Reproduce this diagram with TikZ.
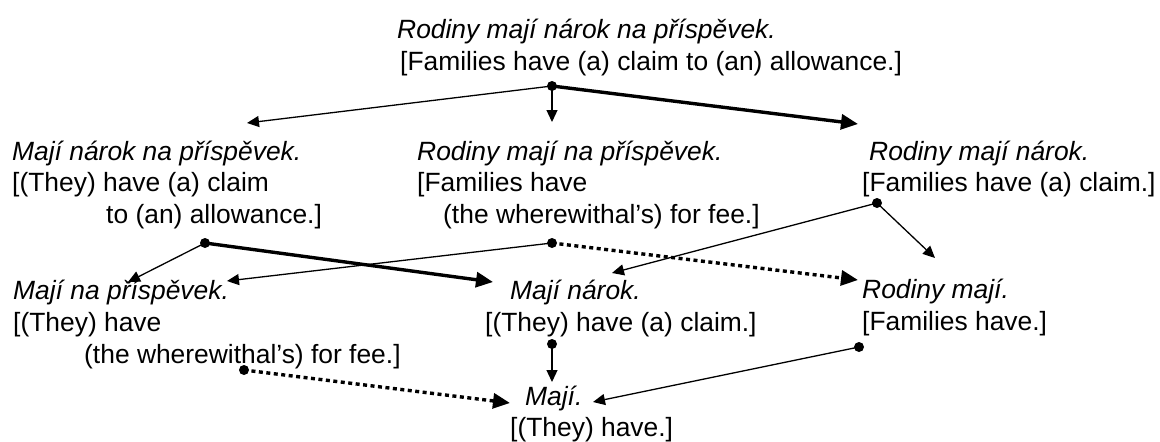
\documentclass[tikz,border=0pt]{standalone}
\usepackage{fontspec}
\setmainfont{Liberation Sans}
\usetikzlibrary{arrows.meta}
\begin{document}
\begin{tikzpicture}[x=1pt,y=-1pt,
  txt/.style={anchor=base west,inner sep=0pt,font=\fontsize{26.4}{31}\selectfont},
  ital/.style={txt,font=\fontsize{26.4}{31}\selectfont\itshape},
  thinarr/.style={line width=1.3pt,-{Triangle[length=12pt,width=11pt]}},
  thickarr/.style={line width=3.4pt,-{Triangle[length=17pt,width=15pt]}},
  dotarr/.style={thickarr,dash pattern=on 4pt off 3.5pt},
  dotmark/.style={fill=black}]
\useasboundingbox (0,0) rectangle (1160,442);
% texts
\node[ital] (T1) at (397,38) {Rodiny mají nárok na příspěvek.};
\node[txt]  (T2) at (400,70) {[Families have (a) claim to (an) allowance.]};
\node[ital] (A1) at (12,160) {Mají nárok na příspěvek.};
\node[txt]  (A2) at (12,191) {[(They) have (a) claim};
\node[txt]  (A3) at (106,223) {to (an) allowance.]};
\node[ital] (B1) at (417,160) {Rodiny mají na příspěvek.};
\node[txt]  (B2) at (417,191) {[Families have};
\node[txt]  (B3) at (443,223) {(the wherewithal’s) for fee.]};
\node[ital] (C1) at (869,160) {Rodiny mají nárok.};
\node[txt]  (C2) at (862,191) {[Families have (a) claim.]};
\node[ital] (D1) at (13,299) {Mají na příspěvek.};
\node[txt]  (D2) at (13,331) {[(They) have};
\node[txt]  (D3) at (84,363) {(the wherewithal’s) for fee.]};
\node[ital] (E1) at (510,299) {Mají nárok.};
\node[txt]  (E2) at (485,331) {[(They) have (a) claim.]};
\node[ital] (F1) at (862,298) {Rodiny mají.};
\node[txt]  (F2) at (862,330) {[Families have.]};
\node[ital] (G1) at (525,405) {Mají.};
\node[txt]  (G2) at (510,436) {[(They) have.]};
% connector points
\coordinate (dT) at (552,86);
\coordinate (dA) at (205,243);
\coordinate (dB) at (552,243);
\coordinate (dC) at (877,203);
\coordinate (dD) at (244,370);
\coordinate (dE) at (552,344);
\coordinate (dF) at (859,347);
\coordinate (inA) at (247,123);
\coordinate (inB) at (552,122);
\coordinate (inC) at (858,124);
\coordinate (inDa) at (128,282);
\coordinate (inDb) at (227,281);
\coordinate (inEa) at (493,282);
\coordinate (inEc) at (612,273);
\coordinate (inFb) at (858,280);
\coordinate (inFc) at (935,258);
\coordinate (inGd) at (510,403);
\coordinate (inGe) at (552,382);
\coordinate (inGf) at (593,402);
% connectors
\draw[thinarr] (dT) -- (inA);
\draw[thinarr] (dT) -- (inB);
\draw[thickarr] (dT) -- (inC);
\draw[thinarr] (dA) -- (inDa);
\draw[thickarr] (dA) -- (inEa);
\draw[thinarr] (dB) -- (inDb);
\draw[dotarr] (dB) -- (inFb);
\draw[thinarr] (dC) -- (inEc);
\draw[thinarr] (dC) -- (inFc);
\draw[dotarr] (dD) -- (inGd);
\draw[thinarr] (dE) -- (inGe);
\draw[thinarr] (dF) -- (inGf);
\foreach \p in {dT,dA,dB,dC,dD,dE,dF} \fill[dotmark] (\p) circle (5pt);
\end{tikzpicture}
\end{document}
